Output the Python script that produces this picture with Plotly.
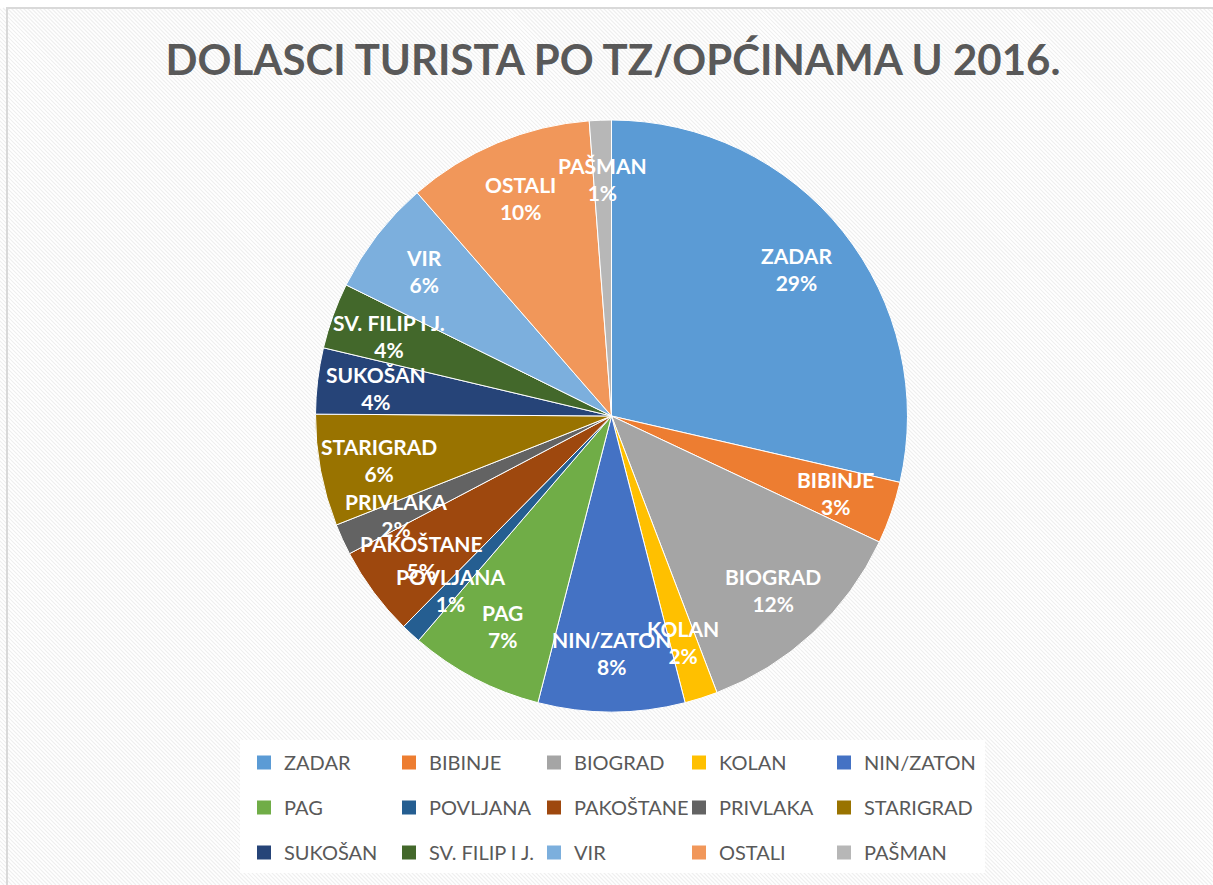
import math
import plotly.graph_objects as go

# ---- data ----
labels = ["ZADAR", "BIBINJE", "BIOGRAD", "KOLAN", "NIN/ZATON", "PAG", "POVLJANA",
          "PAKOŠTANE", "PRIVLAKA", "STARIGRAD", "SUKOŠAN", "SV. FILIP I J.", "VIR",
          "OSTALI", "PAŠMAN"]
values = [28.6, 3.4, 12.2, 1.8, 8.0, 7.3, 1.1, 4.9, 1.7, 6.1, 3.6, 3.6, 6.3, 10.2, 1.2]
colors = ["#5B9BD5", "#ED7D31", "#A5A5A5", "#FFC000", "#4472C4", "#70AD47", "#255E91",
          "#9E480E", "#636363", "#997300", "#264478", "#43682B", "#7CAFDD", "#F1975A",
          "#B7B7B7"]
title_text = "DOLASCI TURISTA PO TZ/OPĆINAMA U 2016."

W, H = 1213, 885
ML, MR, MT, MB = 205, 195, 100, 5
PW, PH = W - ML - MR, H - MT - MB


def px(x):
    return (x - ML) / PW


def py(y):
    return (H - MB - y) / PH


dom_x = [0.0, 1.0]
dom_y = [py(712), py(120)]

fig = go.Figure()
fig.add_trace(go.Pie(
    labels=labels, values=values, sort=False, direction="clockwise", rotation=0,
    marker=dict(colors=colors, line=dict(color="white", width=1)),
    textinfo="none",
    domain=dict(x=dom_x, y=dom_y),
    showlegend=False, hoverinfo="label+percent",
))

# data labels placed at each slice's mid-angle (derived from the values)
cx = ML + PW * (dom_x[0] + dom_x[1]) / 2
cy = H - MB - PH * (dom_y[0] + dom_y[1]) / 2
R = min(PW * (dom_x[1] - dom_x[0]), PH * (dom_y[1] - dom_y[0])) / 2
total = sum(values)
cum = 0.0
annotations = []
for lab, v in zip(labels, values):
    mid = (cum + v / 2) / total * 2 * math.pi
    cum += v
    r = 0.80 * R
    lx = cx + r * math.sin(mid)
    ly = cy - r * math.cos(mid)
    annotations.append(dict(
        x=px(lx), y=py(ly), xref="paper", yref="paper", showarrow=False,
        text=f"<b>{lab}<br>{round(v / total * 100)}%</b>",
        font=dict(family="Lato", size=21, color="white"),
        xanchor="center", yanchor="middle", align="center",
    ))

# legend: 5 columns x 3 rows; one vertical legend per column
n_cols = 5
col_left = [244, 389, 534, 679, 824]
for i, (lab, col) in enumerate(zip(labels, colors)):
    c_idx = i % n_cols
    fig.add_trace(go.Scatter(
        x=[None], y=[None], mode="markers", name=lab, legendgroup=lab,
        marker=dict(symbol="square", size=14, color=col),
        legend="legend" if c_idx == 0 else f"legend{c_idx + 1}",
        hoverinfo="skip",
    ))

legend_layout = {}
for k in range(n_cols):
    key = "legend" if k == 0 else f"legend{k + 1}"
    legend_layout[key] = dict(
        orientation="v", xanchor="left", yanchor="top", x=px(col_left[k]), y=py(743),
        tracegroupgap=16, bgcolor="rgba(0,0,0,0)",
        font=dict(family="Lato", size=20, color="#595959"), itemclick=False,
    )
fig.update_layout(**legend_layout)

# background: frame with light diagonal stripes
segs = []
step = 4
c = -H
while c < W + H:
    x0, y0 = c, 8
    x1, y1 = c + (H - 8), H
    segs.append(f"M{px(x0):.5f},{py(y0):.5f}L{px(x1):.5f},{py(y1):.5f}")
    c += step
shapes = [
    dict(type="rect", xref="paper", yref="paper", x0=px(7), y0=py(8), x1=px(W + 5), y1=py(H + 5),
         fillcolor="white", line=dict(width=0), layer="below"),
    dict(type="path", xref="paper", yref="paper", path="".join(segs),
         line=dict(color="#efefef", width=1.2), layer="below"),
    dict(type="rect", xref="paper", yref="paper", x0=px(240), y0=py(873), x1=px(985), y1=py(740),
         fillcolor="white", line=dict(width=0), layer="below"),
    dict(type="rect", xref="paper", yref="paper", x0=px(7), y0=py(8), x1=px(W + 5), y1=py(H + 5),
         fillcolor="rgba(0,0,0,0)", line=dict(color="#D9D9D9", width=2), layer="below"),
]

fig.update_layout(
    width=W, height=H,
    margin=dict(l=ML, r=MR, t=MT, b=MB, autoexpand=False),
    paper_bgcolor="white", plot_bgcolor="rgba(0,0,0,0)",
    title=dict(text=f"<b>{title_text}</b>", x=613 / W, xanchor="center", y=1 - 60 / H,
               yanchor="middle", font=dict(family="Lato", size=42, color="#595959")),
    xaxis=dict(visible=False), yaxis=dict(visible=False),
    shapes=shapes,
    annotations=annotations,
)

fig.write_html("out.html", config={"displayModeBar": False},
               post_script="document.body.style.margin='0';")
